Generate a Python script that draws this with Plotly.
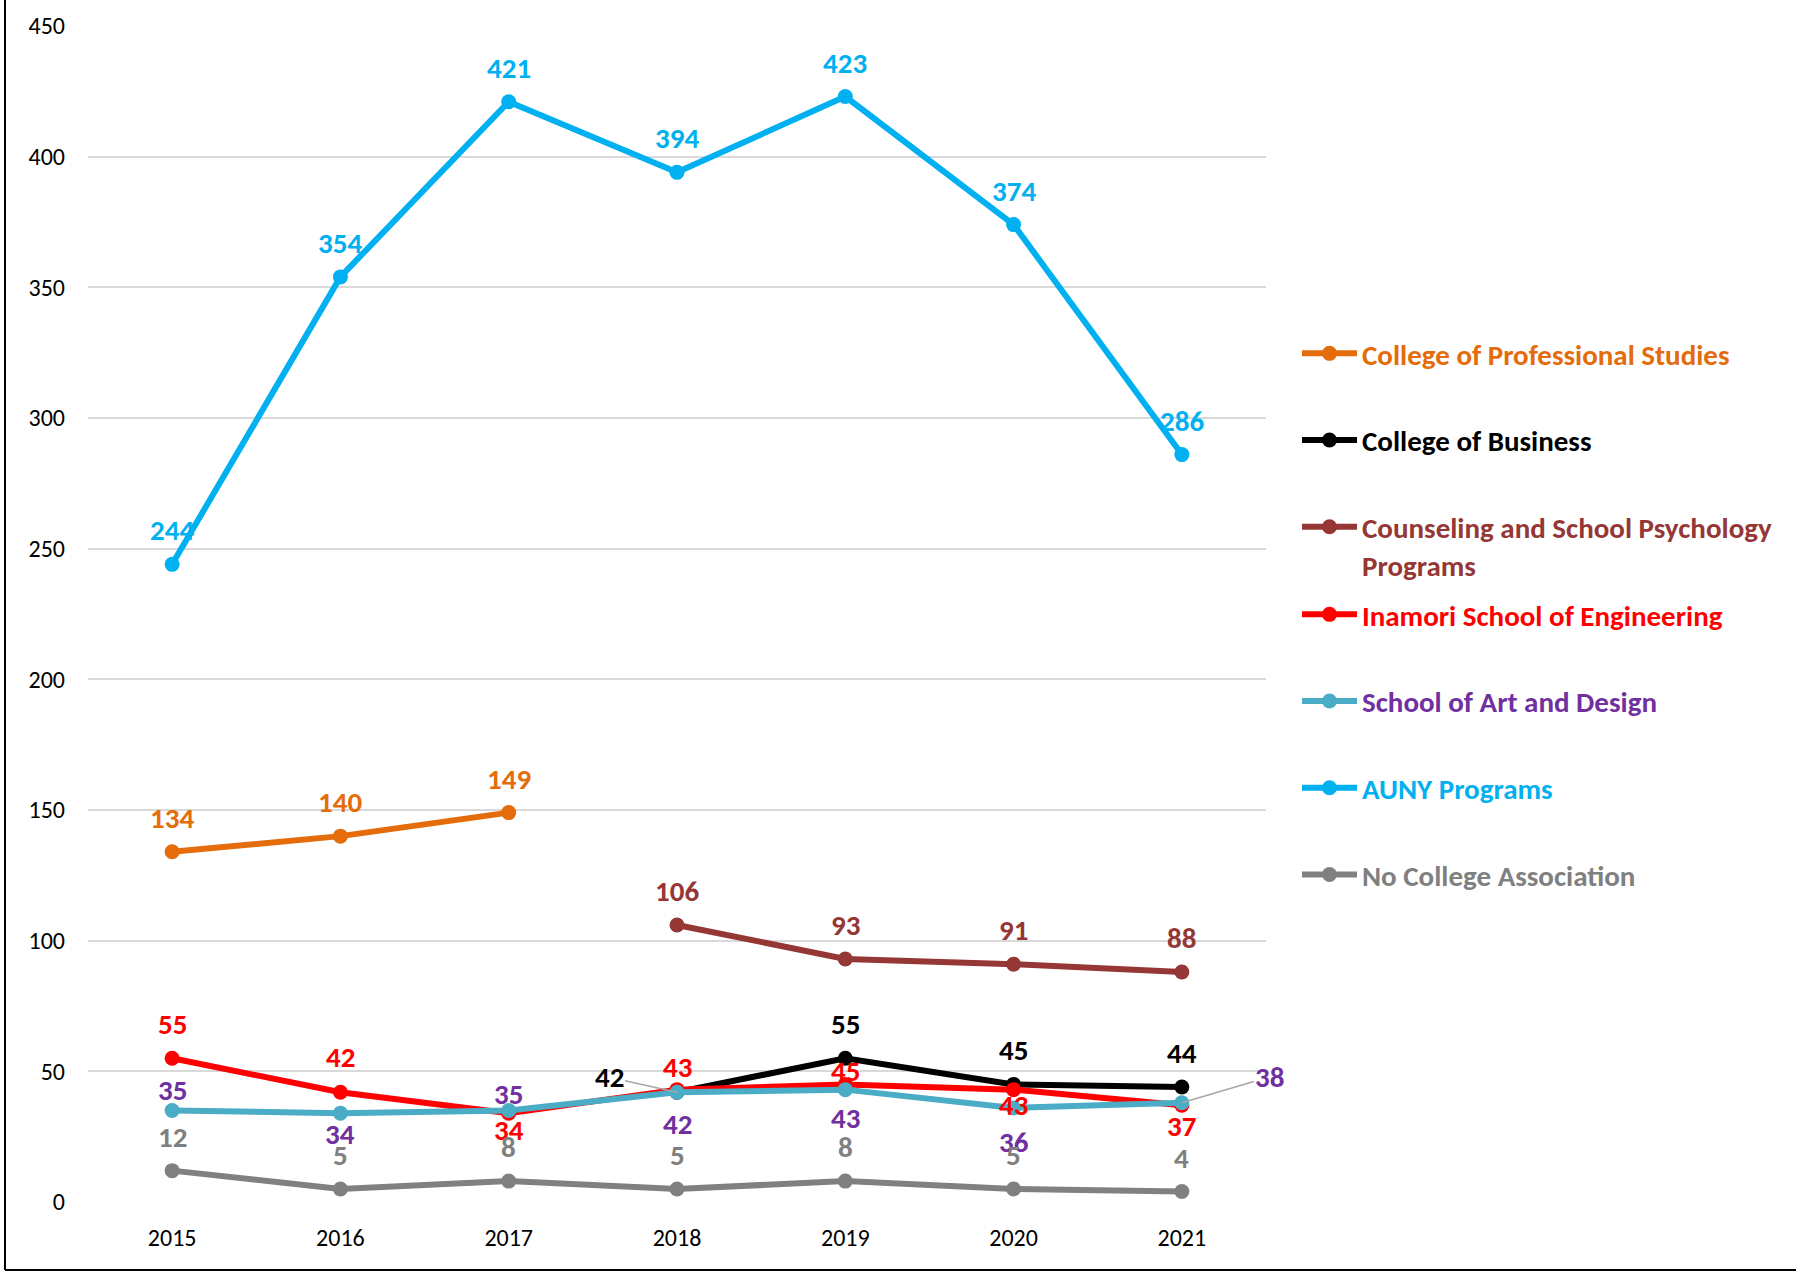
import plotly.graph_objects as go

years = [2015, 2016, 2017, 2018, 2019, 2020, 2021]

series_names = [
    "College of Professional Studies",
    "College of Business",
    "Counseling and School Psychology<br>Programs",
    "Inamori School of Engineering",
    "School of Art and Design",
    "AUNY Programs",
    "No College Association",
]

prof_studies = [134, 140, 149, None, None, None, None]
business = [None, None, None, 42, 55, 45, 44]
counseling = [None, None, None, 106, 93, 91, 88]
engineering = [55, 42, 34, 43, 45, 43, 37]
art_design = [35, 34, 35, 42, 43, 36, 38]
auny = [244, 354, 421, 394, 423, 374, 286]
no_college = [12, 5, 8, 5, 8, 5, 4]

y_ticks = [0, 50, 100, 150, 200, 250, 300, 350, 400, 450]

# ---- styles ----
values = [prof_studies, business, counseling, engineering, art_design, auny, no_college]
line_colors = ["#E46C0A", "#000000", "#953735", "#FF0000", "#4BACC6", "#00B0F0", "#808080"]
text_colors = ["#E46C0A", "#000000", "#953735", "#FF0000", "#7030A0", "#00B0F0", "#808080"]
# vertical offset (px) of each value label from its point; None = leader-line label
label_shift = [
    [34] * 7,
    [34, 34, 34, None, 34, 34, 34],
    [34] * 7,
    [34, 35, -17, 23, 13, -15, -21],
    [21, -21, 17, -32, -28, -34, None],
    [34] * 7,
    [34] * 7,
]
leader_offsets = {(1, 3): (-68, -15), (4, 6): (88, -26)}

FONT = "Calibri, Carlito, Lato, sans-serif"
W, H = 1796, 1274

fig = go.Figure()
annotations = []
for i, (name, vals) in enumerate(zip(series_names, values)):
    fig.add_trace(go.Scatter(
        x=years, y=vals, mode="lines+markers",
        name=f"<b><span style='color:{text_colors[i]}'>{name}</span></b>",
        line=dict(color=line_colors[i], width=6),
        marker=dict(color=line_colors[i], size=15),
        legendgroup=f"g{i}",
        legend="legend" if i < 3 else "legend2",
        connectgaps=False,
    ))
    for j, v in enumerate(vals):
        if v is None:
            continue
        if (i, j) in leader_offsets:
            ax, ay = leader_offsets[(i, j)]
            annotations.append(dict(
                x=years[j], y=v, text=f"<b>{v}</b>", showarrow=True,
                arrowhead=0, arrowwidth=1.5, arrowcolor="#A6A6A6",
                ax=ax, ay=ay, standoff=0,
                font=dict(family=FONT, size=29, color=text_colors[i]),
            ))
        else:
            annotations.append(dict(
                x=years[j], y=v, text=f"<b>{v}</b>", showarrow=False,
                yshift=label_shift[i][j],
                font=dict(family=FONT, size=29, color=text_colors[i]),
            ))

fig.update_layout(
    width=W, height=H,
    margin=dict(l=88, r=530, t=26, b=72, autoexpand=False),
    paper_bgcolor="white", plot_bgcolor="white",
    font=dict(family=FONT, size=24, color="#000000"),
    annotations=annotations,
    showlegend=True,
    legend=dict(
        xref="container", yref="container",
        x=1297 / W, y=1 - 328 / H, xanchor="left", yanchor="top",
        font=dict(family=FONT, size=29), tracegroupgap=46, valign="top",
        itemwidth=55, bgcolor="rgba(0,0,0,0)",
    ),
    legend2=dict(
        xref="container", yref="container",
        x=1297 / W, y=1 - 589 / H, xanchor="left", yanchor="top",
        font=dict(family=FONT, size=29), tracegroupgap=46, valign="top",
        itemwidth=55, bgcolor="rgba(0,0,0,0)",
    ),
    xaxis=dict(
        range=[2014.5, 2021.5], tickvals=years, ticktext=[str(y) for y in years],
        showgrid=False, zeroline=False, showline=False, ticks="",
        ticklabelstandoff=19, tickfont=dict(size=24, color="#000000"),
    ),
    yaxis=dict(
        range=[0, 450], tickvals=y_ticks, showgrid=True, gridcolor="#D9D9D9",
        gridwidth=2, zeroline=False, showline=False, ticks="",
        ticklabelstandoff=22, tickfont=dict(size=24, color="#000000"),
    ),
    shapes=[
        dict(type="line", xref="paper", yref="paper",
             x0=(5 - 88) / 1178, x1=(5 - 88) / 1178, y0=1.03, y1=(1202 - 1270) / 1176,
             line=dict(color="#000000", width=2)),
        dict(type="line", xref="paper", yref="paper",
             x0=(5 - 88) / 1178, x1=1.46, y0=(1202 - 1270) / 1176, y1=(1202 - 1270) / 1176,
             line=dict(color="#000000", width=2)),
    ],
)

fig.write_html(
    "out.html",
    config={"displayModeBar": False},
    post_script="document.body.style.margin='0';document.body.style.overflow='hidden';",
)
